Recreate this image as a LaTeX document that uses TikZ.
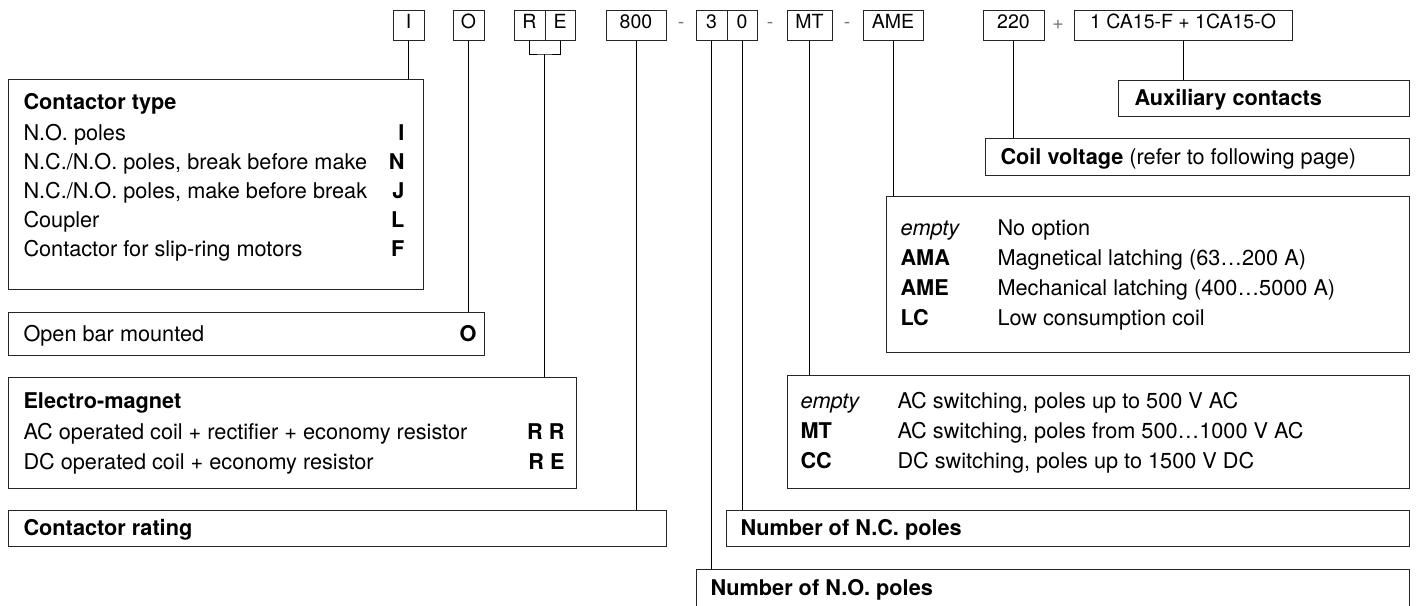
\documentclass[tikz,border=0pt]{standalone}
\usepackage{fontspec}
\setmainfont{TeX Gyre Heros}

\newcommand{\txtfont}{\fontsize{21.7}{25}\selectfont}
\newcommand{\keyfont}{\fontsize{19.5}{22}\selectfont}

\begin{document}
\begin{tikzpicture}[
    x=1pt, y=-1pt,
    line width=1pt,
    box/.style={draw=black!85, anchor=north west, inner sep=0pt},
    key/.style={draw=black!85, minimum height=30, inner sep=0pt, font=\keyfont, text height=0.72em, text depth=0pt},
    sep/.style={font=\keyfont, text=black!55, inner sep=0pt},
    txt/.style={font=\txtfont, anchor=base west, inner sep=0pt},
    hd/.style={font=\txtfont\bfseries, anchor=base west, inner sep=0pt},
    val/.style={font=\txtfont\bfseries, anchor=base east, inner sep=0pt}
]
    \useasboundingbox (0,0) rectangle (1416,605);
    \clip (0,0) rectangle (1416,605);

    % type code
    \node[key, minimum width=31] (cI) at (408.5,25) {I};
    \node[key, minimum width=31] (cO) at (468.5,25) {O};
    \node[key, minimum width=31] (cR) at (529.5,25) {R};
    \node[key, minimum width=30] (cE) at (560,25) {E};
    \node[key, minimum width=60] (c800) at (636,25) {800};
    \node[sep] (d1) at (681,25) {-};
    \node[key, minimum width=31] (c3) at (711.5,25) {3};
    \node[key, minimum width=30] (c0) at (742,25) {0};
    \node[sep] (d2) at (770,25) {-};
    \node[key, minimum width=45] (cMT) at (809.5,25) {MT};
    \node[sep] (d3) at (847,25) {-};
    \node[key, minimum width=60] (cAME) at (893,25) {AME};
    \node[key, minimum width=61] (c220) at (1013.5,25) {220};
    \node[sep] (plus) at (1058,25) {+};
    \node[key, minimum width=218] (cAux) at (1183,25) {1 CA15-F + 1CA15-O};

    % boxes
    \node[box, minimum width=415, minimum height=210] (type) at (8,79) {};
    \node[box, minimum width=476, minimum height=43] (open) at (8,312) {};
    \node[box, minimum width=568, minimum height=111] (magnet) at (8,377) {};
    \node[box, minimum width=658, minimum height=36] (rating) at (8,510) {};
    \node[box, minimum width=683, minimum height=36] (nc) at (726,510) {};
    \node[box, minimum width=713, minimum height=60] (no) at (696,569) {};
    \node[box, minimum width=622, minimum height=113] (mt) at (787,375) {};
    \node[box, minimum width=523, minimum height=156] (ame) at (886,196) {};
    \node[box, minimum width=424, minimum height=37] (coil) at (985,138) {};
    \node[box, minimum width=291, minimum height=36] (aux) at (1118,80) {};

    % contactor type
    \node[hd] (typeh) at (23,109) {Contactor type};
    \node[txt] (type1) at (23,140) {N.O. poles};
    \node[txt] (type2) at (23,169) {N.C./N.O. poles, break before make};
    \node[txt] (type3) at (23,198) {N.C./N.O. poles, make before break};
    \node[txt] (type4) at (23,227) {Coupler};
    \node[txt] (type5) at (23,256) {Contactor for slip-ring motors};
    \node[val] (typev1) at (405,140) {I};
    \node[val] (typev2) at (405,169) {N};
    \node[val] (typev3) at (405,198) {J};
    \node[val] (typev4) at (405,227) {L};
    \node[val] (typev5) at (405,256) {F};

    \node[txt] (open1) at (23,341) {Open bar mounted};
    \node[val] (openv) at (477,341) {O};

    % electro-magnet
    \node[hd] (magneth) at (23,408) {Electro-magnet};
    \node[txt] (magnet1) at (23,439) {AC operated coil + rectifier + economy resistor};
    \node[txt] (magnet2) at (23,469) {DC operated coil + economy resistor};
    \node[val] (magnetv1) at (565,439) {R R};
    \node[val] (magnetv2) at (565,469) {R E};

    \node[hd] (ratingh) at (23,535) {Contactor rating};
    \node[hd] (nch) at (740,535) {Number of N.C. poles};
    \node[hd] (noh) at (710,595) {Number of N.O. poles};

    % main poles voltage
    \node[txt, font=\txtfont\itshape] (mtv1) at (800,408) {empty};
    \node[hd] (mtv2) at (800,438) {MT};
    \node[hd] (mtv3) at (800,468) {CC};
    \node[txt] (mt1) at (897,408) {AC switching, poles up to 500 V AC};
    \node[txt] (mt2) at (897,438) {AC switching, poles from 500…1000 V AC};
    \node[txt] (mt3) at (897,468) {DC switching, poles up to 1500 V DC};

    % options
    \node[txt, font=\txtfont\itshape] (amev1) at (900,235) {empty};
    \node[hd] (amev2) at (900,265) {AMA};
    \node[hd] (amev3) at (900,295) {AME};
    \node[hd] (amev4) at (900,325) {LC};
    \node[txt] (ame1) at (997,235) {No option};
    \node[txt] (ame2) at (997,265) {Magnetical latching (63…200 A)};
    \node[txt] (ame3) at (997,295) {Mechanical latching (400…5000 A)};
    \node[txt] (ame4) at (997,325) {Low consumption coil};

    \node[txt] (coilh) at (1000,164) {\textbf{Coil voltage} (refer to following page)};
    \node[hd] (auxh) at (1134,105) {Auxiliary contacts};

    % leaders
    \draw (cI.south) -- (cI.south |- type.north);
    \draw (cO.south) -- (cO.south |- open.north);
    \coordinate (re) at (544.5,54);
    \draw (cR.south) |- (re) -| (cE.south);
    \draw (re) -- (re |- magnet.north);
    \draw (c800.south) -- (c800.south |- rating.north);
    \draw (c3.south) -- (c3.south |- no.north);
    \draw (c0.south) -- (c0.south |- nc.north);
    \draw (cMT.south) -- (cMT.south |- mt.north);
    \draw (cAME.south) -- (cAME.south |- ame.north);
    \draw (c220.south) -- (c220.south |- coil.north);
    \draw (cAux.south) -- (cAux.south |- aux.north);
\end{tikzpicture}
\end{document}
